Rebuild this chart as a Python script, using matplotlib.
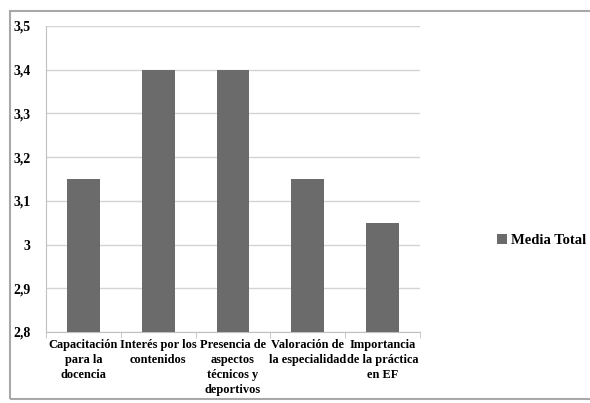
import matplotlib.pyplot as plt
from matplotlib.patches import Rectangle
import numpy as np

categorias = ['Capacitación\npara la\ndocencia', 'Interés por los\ncontenidos',
              'Presencia de\naspectos\ntécnicos y\ndeportivos',
              'Valoración de\nla especialidad', 'Importancia\nde la práctica\nen EF']
media_total = [3.15, 3.4, 3.4, 3.15, 3.05]
yticks = [2.8, 2.9, 3.0, 3.1, 3.2, 3.3, 3.4, 3.5]
ytick_labels = ['2,8', '2,9', '3', '3,1', '3,2', '3,3', '3,4', '3,5']

plt.rcParams['font.family'] = 'Liberation Serif'
plt.rcParams['font.weight'] = 'bold'

fig = plt.figure(figsize=(5.9, 4.03), dpi=100)
ax = fig.add_axes([46 / 590, 1 - 332 / 403, 374 / 590, 306 / 403])

# marco exterior del grafico
fig.patches.append(Rectangle((10 / 590, 1 - 399 / 403), 590, 388 / 403,
                             transform=fig.transFigure, fill=False,
                             edgecolor='#a8a8a8', linewidth=1.5))

x = np.arange(len(categorias))
ax.bar(x, media_total, width=0.44, color='#6b6b6b', zorder=3, label='Media Total')

ax.set_ylim(2.8, 3.5)
ax.set_xlim(-0.5, len(categorias) - 0.5)
ax.set_yticks(yticks)
ax.set_yticklabels(ytick_labels, fontsize=10, fontweight='bold')
ax.yaxis.grid(True, color='#d4d4d4', linewidth=1, zorder=0)
ax.tick_params(axis='y', length=0, pad=11)

ax.set_xticks(x)
ax.set_xticklabels(categorias, fontsize=8.9, fontweight='bold', linespacing=1.35)
ax.set_xticks(np.arange(-0.5, len(categorias)), minor=True)
ax.tick_params(axis='x', which='major', length=0, pad=5)
ax.tick_params(axis='x', which='minor', length=4, color='#c0c0c0')

for s in ['top', 'right']:
    ax.spines[s].set_visible(False)
for s in ['left', 'bottom']:
    ax.spines[s].set_color('#c0c0c0')

ax.legend(loc='center left', bbox_to_anchor=(1.17, 0.3), frameon=False,
          handlelength=0.7, handleheight=0.7, handletextpad=0.3,
          prop={'weight': 'bold', 'size': 10.5})

fig.savefig('out.png', dpi=100)
